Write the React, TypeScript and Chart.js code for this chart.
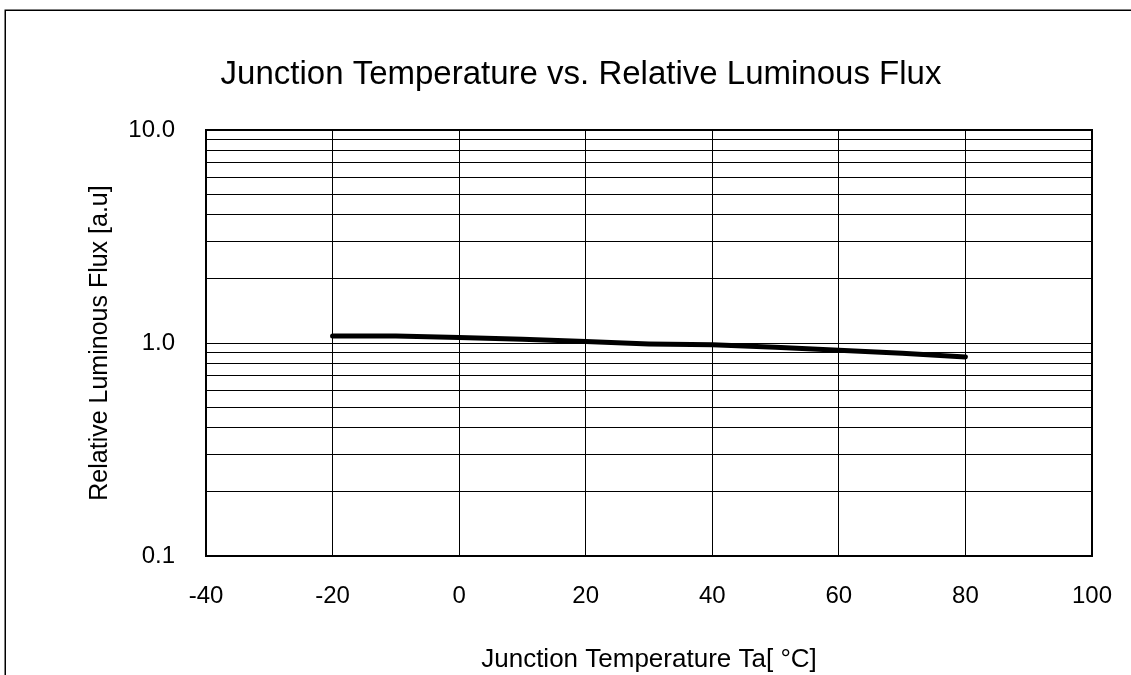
import React, { useEffect, useRef } from "react";
import { Chart, registerables } from "chart.js";

Chart.register(...registerables);

const chartTitle = "Junction Temperature vs. Relative Luminous Flux";
const xAxisTitle = "Junction Temperature Ta[ °C]";
const yAxisTitle = "Relative Luminous Flux [a.u]";

const temperatures = [-20, -10, 0, 10, 20, 30, 40, 50, 60, 70, 80];
const relativeFlux = [1.08, 1.08, 1.06, 1.04, 1.015, 0.99, 0.98, 0.955, 0.925, 0.895, 0.86];

const xTicks = [-40, -20, 0, 20, 40, 60, 80, 100];
const yTicks = [0.1, 0.2, 0.3, 0.4, 0.5, 0.6, 0.7, 0.8, 0.9, 1, 2, 3, 4, 5, 6, 7, 8, 9, 10];
const yLabelled = [0.1, 1, 10];

const FONT = "'Liberation Sans', Arial, Helvetica, sans-serif";

export default function App() {
  const canvasRef = useRef<HTMLCanvasElement | null>(null);

  useEffect(() => {
    const canvas = canvasRef.current;
    if (!canvas) return;

    const decorPlugin = {
      id: "decor",
      beforeDraw(chart: any) {
        const ctx = chart.ctx;
        ctx.save();
        ctx.fillStyle = "#ffffff";
        ctx.fillRect(0, 0, chart.width, chart.height);
        ctx.strokeStyle = "#000";
        ctx.lineWidth = 1.5;
        ctx.strokeRect(5.25, 10.25, chart.width + 50, chart.height + 50);
        ctx.fillStyle = "#000";
        ctx.font = `33px ${FONT}`;
        ctx.textAlign = "center";
        ctx.textBaseline = "middle";
        ctx.fillText(chartTitle, 581, 75);
        ctx.restore();
      },
      afterDraw(chart: any) {
        const { left, top, right, bottom } = chart.chartArea;
        const ctx = chart.ctx;
        ctx.save();
        ctx.strokeStyle = "#000";
        ctx.lineWidth = 2;
        ctx.strokeRect(left, top, right - left, bottom - top);
        ctx.restore();
      },
    };

    const chart = new Chart(canvas, {
      type: "line",
      data: {
        datasets: [
          {
            data: temperatures.map((t, i) => ({ x: t, y: relativeFlux[i] })),
            borderColor: "#000",
            borderWidth: 5,
            borderCapStyle: "round",
            borderJoinStyle: "round",
            pointRadius: 0,
            tension: 0,
            fill: false,
          },
        ],
      },
      options: {
        responsive: false,
        animation: false,
        layout: { padding: { left: 0, top: 130, right: 39, bottom: 0 } },
        plugins: {
          legend: { display: false },
          title: { display: false },
          tooltip: { enabled: false },
        },
        scales: {
          x: {
            type: "linear",
            min: -40,
            max: 100,
            afterBuildTicks: (scale: any) => {
              scale.ticks = xTicks.map((v) => ({ value: v }));
            },
            afterFit: (scale: any) => {
              scale.height = 119;
              scale.paddingLeft = 0;
              scale.paddingRight = 0;
            },
            grid: { color: "#000", lineWidth: 1, drawTicks: false },
            border: { display: false },
            ticks: {
              color: "#000",
              font: { family: FONT, size: 24 },
              padding: 26,
              maxRotation: 0,
              autoSkip: false,
            },
            title: {
              display: true,
              text: xAxisTitle,
              color: "#000",
              font: { family: FONT, size: 26 },
              padding: { top: 0, bottom: 0 },
            },
          },
          y: {
            type: "logarithmic",
            min: 0.1,
            max: 10,
            afterBuildTicks: (scale: any) => {
              scale.ticks = yTicks.map((v) => ({ value: v }));
            },
            afterFit: (scale: any) => {
              scale.width = 206;
              scale.paddingTop = 0;
              scale.paddingBottom = 0;
            },
            grid: { color: "#000", lineWidth: 1, drawTicks: false },
            border: { display: false },
            ticks: {
              color: "#000",
              font: { family: FONT, size: 24 },
              padding: 31,
              autoSkip: false,
              callback: (value: any) => {
                const v = Number(value);
                return yLabelled.some((l) => Math.abs(l - v) < 1e-9) ? v.toFixed(1) : "";
              },
            },
            title: {
              display: true,
              text: yAxisTitle,
              color: "#000",
              font: { family: FONT, size: 25 },
              padding: { top: 85, bottom: 0 },
            },
          },
        },
      },
      plugins: [decorPlugin],
    } as any);

    return () => chart.destroy();
  }, []);

  return (
    <div style={{ position: "absolute", left: 0, top: 0, width: 1131, height: 675 }}>
      <canvas ref={canvasRef} width={1131} height={675} style={{ display: "block" }} />
    </div>
  );
}
